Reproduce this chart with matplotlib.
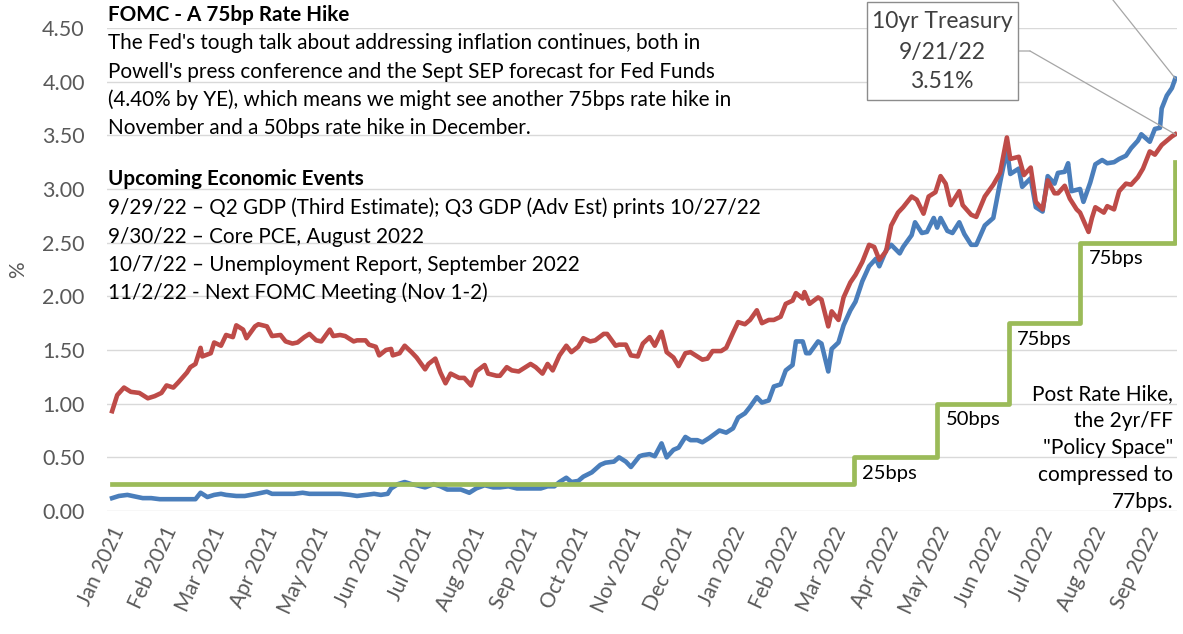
import matplotlib
matplotlib.use('Agg')
import matplotlib.pyplot as plt
import matplotlib.dates as mdates
from matplotlib.patches import Rectangle
from matplotlib.ticker import FormatStrFormatter, MultipleLocator
from matplotlib.transforms import ScaledTranslation
import pandas as pd

plt.rcParams['font.family'] = ['Lato', 'DejaVu Sans']

# 2yr Treasury yield (%)
two_yr_dates = [
    '2021-01-04', '2021-01-08', '2021-01-13', '2021-01-19', '2021-01-22', '2021-01-27',
    '2021-02-01', '2021-02-04', '2021-02-09', '2021-02-12', '2021-02-17', '2021-02-22',
    '2021-02-25', '2021-03-01', '2021-03-05', '2021-03-09', '2021-03-12', '2021-03-18',
    '2021-03-23', '2021-03-30', '2021-04-05', '2021-04-08', '2021-04-13', '2021-04-16',
    '2021-04-21', '2021-04-26', '2021-04-30', '2021-05-05', '2021-05-10', '2021-05-13',
    '2021-05-18', '2021-05-24', '2021-05-28', '2021-06-02', '2021-06-07', '2021-06-11',
    '2021-06-15', '2021-06-17', '2021-06-21', '2021-06-25', '2021-06-29', '2021-07-02',
    '2021-07-07', '2021-07-12', '2021-07-16', '2021-07-20', '2021-07-23', '2021-07-28',
    '2021-08-02', '2021-08-06', '2021-08-11', '2021-08-16', '2021-08-20', '2021-08-25',
    '2021-08-30', '2021-09-02', '2021-09-08', '2021-09-13', '2021-09-17', '2021-09-21',
    '2021-09-24', '2021-09-28', '2021-10-01', '2021-10-05', '2021-10-08', '2021-10-13',
    '2021-10-18', '2021-10-21', '2021-10-26', '2021-10-29', '2021-11-02', '2021-11-05',
    '2021-11-10', '2021-11-12', '2021-11-16', '2021-11-19', '2021-11-23', '2021-11-26',
    '2021-11-30', '2021-12-03', '2021-12-07', '2021-12-10', '2021-12-14', '2021-12-17',
    '2021-12-21', '2021-12-27', '2021-12-31', '2022-01-04', '2022-01-07', '2022-01-11',
    '2022-01-14', '2022-01-18', '2022-01-21', '2022-01-25', '2022-01-28', '2022-02-01',
    '2022-02-04', '2022-02-08', '2022-02-10', '2022-02-14', '2022-02-16', '2022-02-18',
    '2022-02-23', '2022-02-25', '2022-03-01', '2022-03-03', '2022-03-07', '2022-03-10',
    '2022-03-14', '2022-03-17', '2022-03-21', '2022-03-25', '2022-03-29', '2022-03-31',
    '2022-04-04', '2022-04-07', '2022-04-12', '2022-04-14', '2022-04-19', '2022-04-21',
    '2022-04-25', '2022-04-28', '2022-05-02', '2022-05-04', '2022-05-06', '2022-05-10',
    '2022-05-13', '2022-05-17', '2022-05-20', '2022-05-24', '2022-05-27', '2022-06-01',
    '2022-06-06', '2022-06-10', '2022-06-14', '2022-06-16', '2022-06-21', '2022-06-23',
    '2022-06-28', '2022-07-01', '2022-07-05', '2022-07-08', '2022-07-12', '2022-07-14',
    '2022-07-18', '2022-07-20', '2022-07-22', '2022-07-27', '2022-07-29', '2022-08-02',
    '2022-08-05', '2022-08-09', '2022-08-12', '2022-08-16', '2022-08-19', '2022-08-23',
    '2022-08-26', '2022-08-30', '2022-09-01', '2022-09-06', '2022-09-09', '2022-09-12',
    '2022-09-13', '2022-09-16', '2022-09-19', '2022-09-21',
]
two_yr = [
    0.12, 0.14, 0.15, 0.13, 0.12, 0.12,
    0.11, 0.11, 0.11, 0.11, 0.11, 0.11,
    0.17, 0.13, 0.15, 0.16, 0.15, 0.14,
    0.14, 0.16, 0.18, 0.16, 0.16, 0.16,
    0.16, 0.17, 0.16, 0.16, 0.16, 0.16,
    0.16, 0.15, 0.14, 0.15, 0.16, 0.15,
    0.16, 0.21, 0.25, 0.27, 0.25, 0.24,
    0.22, 0.25, 0.23, 0.20, 0.20, 0.20,
    0.17, 0.21, 0.24, 0.22, 0.22, 0.23,
    0.21, 0.21, 0.21, 0.21, 0.23, 0.23,
    0.27, 0.31, 0.27, 0.28, 0.32, 0.36,
    0.43, 0.45, 0.46, 0.50, 0.46, 0.41,
    0.51, 0.52, 0.53, 0.51, 0.63, 0.50,
    0.57, 0.59, 0.69, 0.66, 0.66, 0.64,
    0.68, 0.75, 0.73, 0.77, 0.87, 0.91,
    0.97, 1.06, 1.01, 1.03, 1.16, 1.18,
    1.31, 1.36, 1.58, 1.58, 1.47, 1.47,
    1.58, 1.56, 1.30, 1.51, 1.57, 1.73,
    1.87, 1.95, 2.14, 2.28, 2.35, 2.28,
    2.43, 2.48, 2.40, 2.46, 2.57, 2.69,
    2.59, 2.60, 2.73, 2.64, 2.73, 2.61,
    2.59, 2.69, 2.58, 2.48, 2.48, 2.66,
    2.73, 3.06, 3.37, 3.14, 3.19, 3.02,
    3.10, 2.83, 2.79, 3.12, 3.05, 3.15,
    3.16, 3.24, 2.98, 3.00, 2.88, 3.06,
    3.23, 3.27, 3.24, 3.25, 3.28, 3.31,
    3.38, 3.45, 3.51, 3.44, 3.56, 3.57,
    3.75, 3.87, 3.94, 4.03,
]

# 10yr Treasury yield (%)
ten_yr_dates = [
    '2021-01-04', '2021-01-07', '2021-01-11', '2021-01-15', '2021-01-20', '2021-01-25',
    '2021-01-29', '2021-02-02', '2021-02-05', '2021-02-09', '2021-02-12', '2021-02-17',
    '2021-02-19', '2021-02-22', '2021-02-25', '2021-02-26', '2021-03-03', '2021-03-05',
    '2021-03-09', '2021-03-12', '2021-03-16', '2021-03-18', '2021-03-22', '2021-03-24',
    '2021-03-29', '2021-03-31', '2021-04-05', '2021-04-08', '2021-04-13', '2021-04-16',
    '2021-04-20', '2021-04-23', '2021-04-27', '2021-04-30', '2021-05-04', '2021-05-07',
    '2021-05-12', '2021-05-14', '2021-05-18', '2021-05-21', '2021-05-26', '2021-05-28',
    '2021-06-02', '2021-06-04', '2021-06-08', '2021-06-10', '2021-06-14', '2021-06-17',
    '2021-06-18', '2021-06-22', '2021-06-25', '2021-06-29', '2021-07-02', '2021-07-07',
    '2021-07-09', '2021-07-13', '2021-07-16', '2021-07-19', '2021-07-22', '2021-07-27',
    '2021-07-30', '2021-08-03', '2021-08-06', '2021-08-11', '2021-08-13', '2021-08-18',
    '2021-08-20', '2021-08-24', '2021-08-27', '2021-08-31', '2021-09-03', '2021-09-07',
    '2021-09-10', '2021-09-14', '2021-09-17', '2021-09-20', '2021-09-24', '2021-09-28',
    '2021-10-01', '2021-10-05', '2021-10-08', '2021-10-12', '2021-10-15', '2021-10-20',
    '2021-10-22', '2021-10-27', '2021-10-29', '2021-11-02', '2021-11-05', '2021-11-09',
    '2021-11-12', '2021-11-16', '2021-11-19', '2021-11-23', '2021-11-26', '2021-11-30',
    '2021-12-03', '2021-12-07', '2021-12-10', '2021-12-14', '2021-12-17', '2021-12-20',
    '2021-12-23', '2021-12-28', '2021-12-31', '2022-01-04', '2022-01-07', '2022-01-11',
    '2022-01-14', '2022-01-18', '2022-01-21', '2022-01-25', '2022-01-28', '2022-02-01',
    '2022-02-04', '2022-02-08', '2022-02-10', '2022-02-14', '2022-02-15', '2022-02-18',
    '2022-02-23', '2022-02-25', '2022-03-01', '2022-03-03', '2022-03-07', '2022-03-10',
    '2022-03-14', '2022-03-17', '2022-03-21', '2022-03-25', '2022-03-28', '2022-03-31',
    '2022-04-04', '2022-04-07', '2022-04-11', '2022-04-14', '2022-04-19', '2022-04-22',
    '2022-04-26', '2022-04-29', '2022-05-03', '2022-05-06', '2022-05-09', '2022-05-12',
    '2022-05-17', '2022-05-19', '2022-05-24', '2022-05-27', '2022-06-01', '2022-06-06',
    '2022-06-10', '2022-06-14', '2022-06-16', '2022-06-21', '2022-06-24', '2022-06-28',
    '2022-07-01', '2022-07-05', '2022-07-08', '2022-07-12', '2022-07-14', '2022-07-18',
    '2022-07-21', '2022-07-25', '2022-07-27', '2022-08-01', '2022-08-03', '2022-08-05',
    '2022-08-10', '2022-08-12', '2022-08-16', '2022-08-19', '2022-08-23', '2022-08-26',
    '2022-08-30', '2022-09-02', '2022-09-06', '2022-09-09', '2022-09-13', '2022-09-16',
    '2022-09-19', '2022-09-21',
]
ten_yr = [
    0.93, 1.08, 1.15, 1.11, 1.10, 1.05,
    1.07, 1.10, 1.17, 1.15, 1.20, 1.29,
    1.34, 1.37, 1.52, 1.44, 1.47, 1.57,
    1.54, 1.64, 1.62, 1.73, 1.69, 1.61,
    1.72, 1.74, 1.72, 1.63, 1.64, 1.58,
    1.56, 1.57, 1.62, 1.65, 1.59, 1.58,
    1.69, 1.63, 1.64, 1.63, 1.58, 1.59,
    1.59, 1.55, 1.53, 1.45, 1.50, 1.51,
    1.45, 1.47, 1.54, 1.48, 1.43, 1.32,
    1.37, 1.42, 1.29, 1.19, 1.28, 1.24,
    1.24, 1.17, 1.30, 1.36, 1.28, 1.26,
    1.26, 1.34, 1.31, 1.30, 1.33, 1.37,
    1.34, 1.28, 1.37, 1.31, 1.45, 1.54,
    1.48, 1.53, 1.61, 1.58, 1.59, 1.65,
    1.65, 1.54, 1.55, 1.55, 1.45, 1.44,
    1.56, 1.62, 1.54, 1.67, 1.48, 1.43,
    1.35, 1.47, 1.48, 1.44, 1.41, 1.42,
    1.49, 1.49, 1.52, 1.66, 1.76, 1.74,
    1.78, 1.87, 1.75, 1.78, 1.78, 1.81,
    1.93, 1.96, 2.03, 1.98, 2.04, 1.93,
    1.99, 1.97, 1.72, 1.86, 1.78, 1.99,
    2.13, 2.20, 2.32, 2.48, 2.46, 2.34,
    2.42, 2.66, 2.78, 2.83, 2.93, 2.90,
    2.77, 2.93, 2.97, 3.12, 3.05, 2.85,
    2.98, 2.85, 2.76, 2.74, 2.93, 3.04,
    3.15, 3.48, 3.28, 3.30, 3.13, 3.20,
    2.88, 2.81, 3.08, 2.96, 2.96, 3.03,
    2.91, 2.81, 2.78, 2.60, 2.73, 2.83,
    2.78, 2.84, 2.81, 2.98, 3.05, 3.04,
    3.11, 3.19, 3.35, 3.32, 3.41, 3.45,
    3.49, 3.51,
]

# Fed Funds upper bound (%)
ff_dates = ['2021-01-04', '2022-03-16', '2022-05-04', '2022-06-15', '2022-07-27', '2022-09-21']
ff_upper = [0.25, 0.50, 1.00, 1.75, 2.50, 3.25]
hike_labels = ['25bps', '50bps', '75bps', '75bps']

title_1 = 'FOMC - A 75bp Rate Hike'
body_lines = [
    "The Fed's tough talk about addressing inflation continues, both in",
    "Powell's press conference and the Sept SEP forecast for Fed Funds",
    "(4.40% by YE), which means we might see another 75bps rate hike in",
    "November and a 50bps rate hike in December.",
]
title_2 = 'Upcoming Economic Events'
event_lines = [
    '9/29/22 \u2013 Q2 GDP (Third Estimate); Q3 GDP (Adv Est) prints 10/27/22',
    '9/30/22 \u2013 Core PCE, August 2022',
    '10/7/22 \u2013 Unemployment Report, September 2022',
    '11/2/22 - Next FOMC Meeting (Nov 1-2)',
]
callout_lines = ['10yr Treasury', '9/21/22', '3.51%']
space_note = 'Post Rate Hike,\nthe 2yr/FF\n"Policy Space"\ncompressed to\n77bps.'

d2 = pd.to_datetime(two_yr_dates)
d10 = pd.to_datetime(ten_yr_dates)
dff = pd.to_datetime(ff_dates)

W, H = 1183, 634
fig = plt.figure(figsize=(W / 100, H / 100), dpi=100)
fig.patch.set_facecolor('white')


def px(x, y):
    # pixel position from top-left -> figure fraction
    return x / W, 1 - y / H


ax = fig.add_axes([107 / W, 1 - 511 / H, (1177 - 107) / W, (511 - 28) / H])

ax.plot(d2, two_yr, color='#4A7EBB', lw=3.3, solid_joinstyle='round')
ax.plot(d10, ten_yr, color='#BE4B48', lw=3.3, solid_joinstyle='round')
ax.plot(dff, ff_upper, drawstyle='steps-post', color='#9BBB59', lw=3.4)

ax.set_xlim(pd.Timestamp('2021-01-01'), pd.Timestamp('2022-09-22'))
ax.set_ylim(0, 4.5)
ax.yaxis.set_major_locator(MultipleLocator(0.5))
ax.yaxis.set_major_formatter(FormatStrFormatter('%.2f'))
ax.xaxis.set_major_locator(mdates.MonthLocator())
ax.xaxis.set_major_formatter(mdates.DateFormatter('%b %Y'))

ax.grid(axis='y', color='#D9D9D9', lw=1)
ax.set_axisbelow(True)
for s in ax.spines.values():
    s.set_visible(False)
ax.tick_params(axis='both', length=0, labelcolor='#595959')
ax.tick_params(axis='y', pad=16, labelsize=15.5)
ax.tick_params(axis='x', pad=12, labelsize=15)
shift = ScaledTranslation(9 / 72, 0, fig.dpi_scale_trans)
for lbl in ax.get_xticklabels():
    lbl.set_rotation(65)
    lbl.set_ha('right')
    lbl.set_va('center')
    lbl.set_rotation_mode('anchor')
    lbl.set_transform(lbl.get_transform() + shift)

fig.text(*px(18, 270), '%', rotation=90, ha='center', va='center', fontsize=15, color='#595959')

# rate hike labels next to each step
for d, lvl, lab in zip(dff[1:-1], ff_upper[1:-1], hike_labels):
    ax.text(d + pd.Timedelta(days=5), lvl - 0.15, lab, fontsize=14.5, ha='left', va='center')

fig.text(*px(1173, 448), space_note, ha='right', va='center', fontsize=15, linespacing=1.45)

# commentary block
fs = 14.9
fig.text(*px(108, 15), title_1, fontsize=fs, fontweight='bold', va='center')
for y, line in zip([43, 72, 100, 128], body_lines):
    fig.text(*px(108, y), line, fontsize=fs, va='center')
fig.text(*px(108, 179), title_2, fontsize=fs, fontweight='bold', va='center')
for y, line in zip([208, 237, 265, 293], event_lines):
    fig.text(*px(108, y), line, fontsize=fs, va='center')

# callout box for 10yr
x0, y0 = px(867, 100)
x1, y1 = px(1018, 2)
fig.patches.append(Rectangle((x0, y0), x1 - x0, y1 - y0, transform=fig.transFigure,
                             facecolor='white', edgecolor='#8C8C8C', lw=1, zorder=5))
for y, line in zip([22, 52, 82], callout_lines):
    fig.text(*px(942, y), line, ha='center', va='center', fontsize=16.5, color='#404040', zorder=6)

lead = dict(arrowstyle='-', color='#A6A6A6', lw=0.9, shrinkA=0, shrinkB=0)
ax.annotate('', xy=(d10[-1], ten_yr[-1]), xytext=(1030, H - 51), textcoords='figure pixels',
            arrowprops=lead, annotation_clip=False)
ax.annotate('', xy=(1030, H - 51), xycoords='figure pixels', xytext=(1018, H - 51),
            textcoords='figure pixels', arrowprops=lead, annotation_clip=False)
ax.annotate('', xy=(d2[-1], two_yr[-1]), xytext=(1105, H + 10), textcoords='figure pixels',
            arrowprops=lead, annotation_clip=False)

fig.savefig('out.png', dpi=100)
